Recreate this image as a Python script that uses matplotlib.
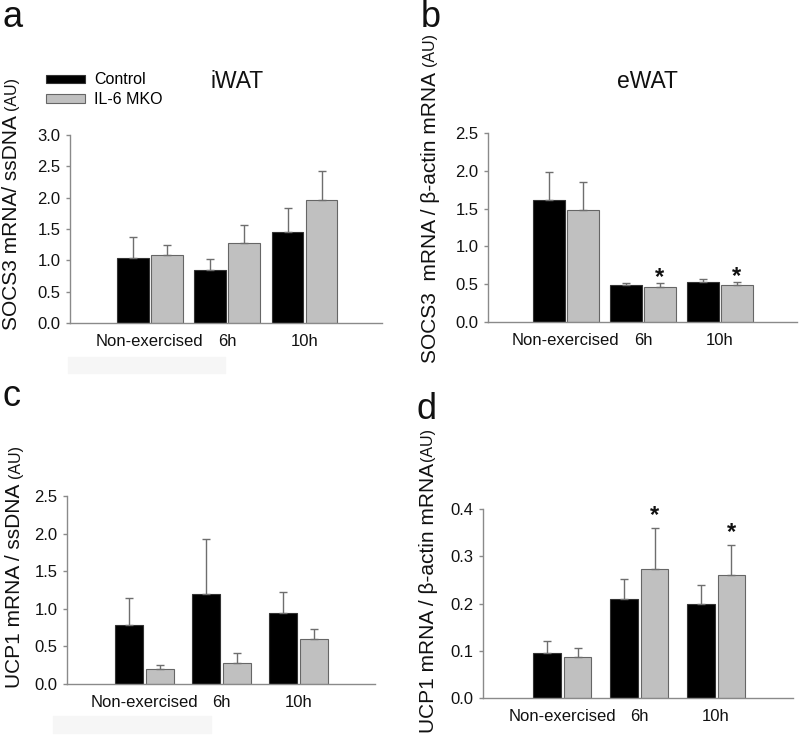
import numpy as np
import matplotlib
matplotlib.use("Agg")
import matplotlib.pyplot as plt
from matplotlib.patches import Rectangle

plt.rcParams['font.family'] = ['Liberation Sans', 'DejaVu Sans']

# data
groups = ["Non-exercised", "6h", "10h"]
series = ["Control", "IL-6 MKO"]

a_ctrl = [1.04, 0.84, 1.46]
a_ctrl_err = [0.34, 0.18, 0.38]
a_ko = [1.08, 1.27, 1.97]
a_ko_err = [0.17, 0.30, 0.46]

b_ctrl = [1.61, 0.485, 0.525]
b_ctrl_err = [0.37, 0.03, 0.045]
b_ko = [1.48, 0.463, 0.485]
b_ko_err = [0.37, 0.053, 0.04]

c_ctrl = [0.78, 1.20, 0.94]
c_ctrl_err = [0.36, 0.73, 0.28]
c_ko = [0.20, 0.28, 0.60]
c_ko_err = [0.05, 0.13, 0.13]

d_ctrl = [0.096, 0.209, 0.200]
d_ctrl_err = [0.024, 0.042, 0.039]
d_ko = [0.087, 0.272, 0.261]
d_ko_err = [0.019, 0.087, 0.063]

stars_b = [1, 2]
stars_d = [1, 2]

W, H = 800, 737
fig = plt.figure(figsize=(8, 7.37), dpi=100)

def px_axes(l, t, r, b):
    return fig.add_axes([l / W, 1 - b / H, (r - l) / W, (b - t) / H])

spine_c = "#8a8a8a"
err_c = "#6e6e6e"
txt_c = "#111111"

def panel(box, ctrl, ctrl_err, ko, ko_err, ymax, yticks, width, off, xlim):
    ax = px_axes(*box)
    x = np.arange(len(groups))
    b1 = ax.bar(x - off, ctrl, width, color="black", edgecolor="#333333", linewidth=0.8,
                yerr=[np.zeros(3), ctrl_err], ecolor=err_c,
                error_kw=dict(elinewidth=1.0, capsize=3, capthick=1.0), label=series[0])
    b2 = ax.bar(x + off, ko, width, color="#c0c0c0", edgecolor="#666666", linewidth=0.8,
                yerr=[np.zeros(3), ko_err], ecolor=err_c,
                error_kw=dict(elinewidth=1.0, capsize=3, capthick=1.0), label=series[1])
    ax.set_xlim(*xlim)
    ax.set_ylim(0, ymax)
    ax.set_yticks(yticks)
    ax.set_yticklabels(["{:.1f}".format(v) for v in yticks], fontsize=12, color=txt_c)
    ax.set_xticks(x)
    ax.set_xticklabels(groups, fontsize=12, color=txt_c)
    ax.tick_params(axis="x", length=0, pad=8)
    ax.tick_params(axis="y", length=3, width=1, color=spine_c, pad=4)
    for s in ["top", "right"]:
        ax.spines[s].set_visible(False)
    for s in ["left", "bottom"]:
        ax.spines[s].set_color(spine_c)
        ax.spines[s].set_linewidth(1.0)
    return ax, b1, b2

def ylabel(ax, x, ybottom, main, gap=4, size=15):
    t = fig.text(x / W, 1 - ybottom / H, main, rotation=90, ha="center", va="bottom",
                 fontsize=size, color=txt_c)
    ax.annotate("(AU)", xy=(0.5, 1.0), xycoords=t, rotation=90,
                ha="center", va="bottom", fontsize=11.5, color=txt_c,
                xytext=(0, gap), textcoords="offset points")

# panel a
axa, ba1, ba2 = panel((70, 135, 382, 323), a_ctrl, a_ctrl_err, a_ko, a_ko_err,
                      3.0, [0, 0.5, 1.0, 1.5, 2.0, 2.5, 3.0], 0.41, 0.22, (-1.03, 3.0))
# panel b
axb, bb1, bb2 = panel((488, 133, 797, 322), b_ctrl, b_ctrl_err, b_ko, b_ko_err,
                      2.5, [0, 0.5, 1.0, 1.5, 2.0, 2.5], 0.41, 0.22, (-1.01, 3.0))
# panel c
axc, bc1, bc2 = panel((67, 496, 375, 684), c_ctrl, c_ctrl_err, c_ko, c_ko_err,
                      2.5, [0, 0.5, 1.0, 1.5, 2.0, 2.5], 0.36, 0.2, (-1.0, 2.99))
# panel d
axd, bd1, bd2 = panel((483, 509, 793, 698), d_ctrl, d_ctrl_err, d_ko, d_ko_err,
                      0.4, [0, 0.1, 0.2, 0.3, 0.4], 0.36, 0.2, (-1.03, 3.0))

# stars
for i in stars_b:
    axb.annotate("*", xy=(i + 0.22, b_ko[i] + b_ko_err[i]), xytext=(0, -4),
                 textcoords="offset points", ha="center", va="bottom",
                 fontsize=17, fontweight="bold", color=txt_c)
for i in stars_d:
    axd.annotate("*", xy=(i + 0.2, d_ko[i] + d_ko_err[i]), xytext=(0, 1),
                 textcoords="offset points", ha="center", va="bottom",
                 fontsize=17, fontweight="bold", color=txt_c)

# titles
fig.text(237 / W, 1 - 82 / H, "iWAT", ha="center", va="center", fontsize=16.5, color=txt_c)
fig.text(647 / W, 1 - 82 / H, "eWAT", ha="center", va="center", fontsize=16.5, color=txt_c)

# legend
axa.legend(handles=[ba1, ba2], labels=series, loc="upper left",
           bbox_to_anchor=(40 / W, 1 - 66 / H), bbox_transform=fig.transFigure,
           frameon=False, fontsize=11.5, handlelength=2.4, handleheight=0.4,
           handletextpad=0.6, labelspacing=0.3, borderaxespad=0)

# y labels
ylabel(axa, 12, 330, "SOCS3 mRNA/ ssDNA")
ylabel(axb, 430, 363, "SOCS3  mRNA / β-actin mRNA")
ylabel(axc, 15, 688, "UCP1 mRNA / ssDNA")
ylabel(axd, 428, 733, "UCP1 mRNA / β-actin mRNA", gap=1)

# panel letters
for lx, ly, s in [(3, 27, "a"), (421, 27, "b"), (3, 406, "c"), (416, 419, "d")]:
    fig.text(lx / W, 1 - ly / H, s, ha="left", va="baseline", fontsize=26, color=txt_c)

# faint boxes under panels a and c
fig.patches.append(Rectangle((68 / W, 1 - 373 / H), 157 / W, 16 / H,
                             transform=fig.transFigure, color="#f6f6f6", zorder=-1))
fig.patches.append(Rectangle((53 / W, 1 - 733 / H), 158 / W, 17 / H,
                             transform=fig.transFigure, color="#f6f6f6", zorder=-1))

fig.savefig("out.png", dpi=100)
